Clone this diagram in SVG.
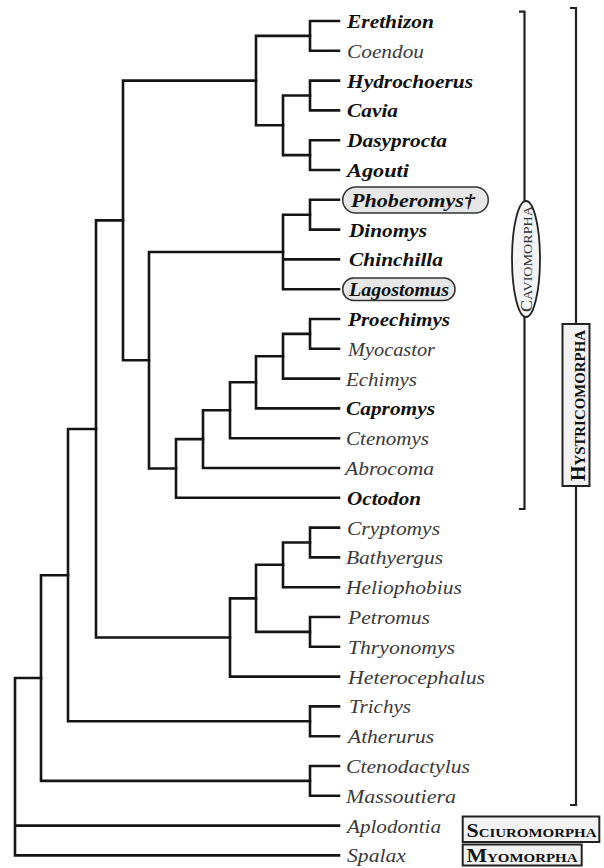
<svg xmlns="http://www.w3.org/2000/svg" width="604" height="868" viewBox="0 0 604 868">
<style>
.e{fill:none;stroke:#151515;stroke-width:2.6;stroke-linecap:square}
.br{fill:none;stroke:#222;stroke-width:2.2}
text{font-family:"Liberation Serif","Times New Roman",serif;font-style:italic;font-size:19px}
.b{font-weight:bold;fill:#111}
.r{fill:#3a3a3a}
.pill{fill:#e6e6e6;stroke:#333;stroke-width:1.5}
.box{fill:#f2f2f2;stroke:#222;stroke-width:2}
.sc{font-style:normal;font-weight:bold;fill:#111}
.cv{font-style:normal;font-weight:normal;fill:#333}
</style>
<rect width="604" height="868" fill="#fff"/>
<g id="connectors">
<path class="e" d="M339 21H310V50.8H339"/>
<path class="e" d="M339 80.6H310V110.4H339"/>
<path class="e" d="M339 140.2H310V170H339"/>
<path class="e" d="M310 95.5H283V155.1H310"/>
<path class="e" d="M310 35.9H256V125.3H283"/>
<path class="e" d="M339 199.8H310V229.6H339"/>
<path class="e" d="M310 214.7H283V289.2H339M283 259.4H339"/>
<path class="e" d="M339 319H310V348.8H339"/>
<path class="e" d="M310 333.9H283V378.6H339"/>
<path class="e" d="M283 356.3H256V408.4H339"/>
<path class="e" d="M256 382.3H230V438.2H339"/>
<path class="e" d="M230 410.3H203V468H339"/>
<path class="e" d="M203 439.1H176V497.8H339"/>
<path class="e" d="M283 252H149V468.5H176"/>
<path class="e" d="M256 80.6H123V360.2H149"/>
<path class="e" d="M339 527.6H310V557.4H339"/>
<path class="e" d="M310 542.5H283V587.2H339"/>
<path class="e" d="M339 617H310V646.8H339"/>
<path class="e" d="M283 564.8H256V631.9H310"/>
<path class="e" d="M256 598.4H230V676.6H339"/>
<path class="e" d="M123 220.4H96V637.5H230"/>
<path class="e" d="M339 706.4H310V736.2H339"/>
<path class="e" d="M96 429H68V721.3H310"/>
<path class="e" d="M339 766H310V795.8H339"/>
<path class="e" d="M68 575.2H41V780.9H310"/>
<path class="e" d="M41 678H15V855.4H339M15 825.6H339"/>
</g>
<g id="taxa">
<g id="n-erethizon"><text class="b" x="347" y="28" textLength="87" lengthAdjust="spacingAndGlyphs">Erethizon</text></g>
<g id="n-coendou"><text class="r" x="347" y="57.8" textLength="77" lengthAdjust="spacingAndGlyphs">Coendou</text></g>
<g id="n-hydrochoerus"><text class="b" x="347" y="87.6" textLength="126" lengthAdjust="spacingAndGlyphs">Hydrochoerus</text></g>
<g id="n-cavia"><text class="b" x="347" y="117.4" textLength="51" lengthAdjust="spacingAndGlyphs">Cavia</text></g>
<g id="n-dasyprocta"><text class="b" x="347" y="147.2" textLength="100" lengthAdjust="spacingAndGlyphs">Dasyprocta</text></g>
<g id="n-agouti"><text class="b" x="347" y="177" textLength="62" lengthAdjust="spacingAndGlyphs">Agouti</text></g>
<g id="n-phoberomys"><rect class="pill" x="342.7" y="187" width="145.6" height="26" rx="13"/><text class="b" x="351" y="206.8" textLength="124" lengthAdjust="spacingAndGlyphs">Phoberomys†</text></g>
<g id="n-dinomys"><text class="b" x="349" y="236.6" textLength="78" lengthAdjust="spacingAndGlyphs">Dinomys</text></g>
<g id="n-chinchilla"><text class="b" x="349" y="266.4" textLength="94" lengthAdjust="spacingAndGlyphs">Chinchilla</text></g>
<g id="n-lagostomus"><rect class="pill" x="342.7" y="278" width="112.3" height="22.4" rx="11"/><text class="b" x="349" y="296.2" textLength="100" lengthAdjust="spacingAndGlyphs">Lagostomus</text></g>
<g id="n-proechimys"><text class="b" x="348" y="326" textLength="102" lengthAdjust="spacingAndGlyphs">Proechimys</text></g>
<g id="n-myocastor"><text class="r" x="348" y="355.8" textLength="87" lengthAdjust="spacingAndGlyphs">Myocastor</text></g>
<g id="n-echimys"><text class="r" x="346" y="385.6" textLength="71" lengthAdjust="spacingAndGlyphs">Echimys</text></g>
<g id="n-capromys"><text class="b" x="346" y="415.4" textLength="89" lengthAdjust="spacingAndGlyphs">Capromys</text></g>
<g id="n-ctenomys"><text class="r" x="346" y="445.2" textLength="83" lengthAdjust="spacingAndGlyphs">Ctenomys</text></g>
<g id="n-abrocoma"><text class="r" x="345" y="475" textLength="89" lengthAdjust="spacingAndGlyphs">Abrocoma</text></g>
<g id="n-octodon"><text class="b" x="347" y="504.8" textLength="74" lengthAdjust="spacingAndGlyphs">Octodon</text></g>
<g id="n-cryptomys"><text class="r" x="347" y="534.6" textLength="93" lengthAdjust="spacingAndGlyphs">Cryptomys</text></g>
<g id="n-bathyergus"><text class="r" x="346" y="564.4" textLength="97" lengthAdjust="spacingAndGlyphs">Bathyergus</text></g>
<g id="n-heliophobius"><text class="r" x="346" y="594.2" textLength="116" lengthAdjust="spacingAndGlyphs">Heliophobius</text></g>
<g id="n-petromus"><text class="r" x="348" y="624" textLength="82" lengthAdjust="spacingAndGlyphs">Petromus</text></g>
<g id="n-thryonomys"><text class="r" x="348" y="653.8" textLength="107" lengthAdjust="spacingAndGlyphs">Thryonomys</text></g>
<g id="n-heterocephalus"><text class="r" x="348" y="683.6" textLength="137" lengthAdjust="spacingAndGlyphs">Heterocephalus</text></g>
<g id="n-trichys"><text class="r" x="349" y="713.4" textLength="62" lengthAdjust="spacingAndGlyphs">Trichys</text></g>
<g id="n-atherurus"><text class="r" x="348" y="743.2" textLength="86" lengthAdjust="spacingAndGlyphs">Atherurus</text></g>
<g id="n-ctenodactylus"><text class="r" x="346" y="773" textLength="124" lengthAdjust="spacingAndGlyphs">Ctenodactylus</text></g>
<g id="n-massoutiera"><text class="r" x="346" y="802.8" textLength="110" lengthAdjust="spacingAndGlyphs">Massoutiera</text></g>
<g id="n-aplodontia"><text class="r" x="347" y="832.6" textLength="94" lengthAdjust="spacingAndGlyphs">Aplodontia</text></g>
<g id="n-spalax"><text class="r" x="347" y="862.4" textLength="59" lengthAdjust="spacingAndGlyphs">Spalax</text></g>
</g>
<g id="caviomorpha">
<path class="br" d="M519 11.7H524.5V509H519"/>
<ellipse cx="526" cy="259" rx="14" ry="58" fill="#f4f4f4" stroke="#222" stroke-width="1.8"/>
<text class="cv" transform="translate(532 312) rotate(-90)" textLength="106" lengthAdjust="spacingAndGlyphs"><tspan font-size="16">C</tspan><tspan font-size="12.5">AVIOMORPHA</tspan></text>
</g>
<g id="hystricomorpha">
<path class="br" d="M570 8H576V805H570"/>
<rect class="box" x="562.5" y="324" width="27" height="162"/>
<text class="sc" transform="translate(584.5 481) rotate(-90)" textLength="151" lengthAdjust="spacingAndGlyphs"><tspan font-size="20">H</tspan><tspan font-size="15">YSTRICOMORPHA</tspan></text>
</g>
<g id="sciuromorpha">
<rect class="box" x="462.7" y="816.5" width="136.6" height="25.5"/>
<text class="sc" x="466.5" y="836.5" textLength="130" lengthAdjust="spacingAndGlyphs"><tspan font-size="19">S</tspan><tspan font-size="13">CIUROMORPHA</tspan></text>
</g>
<g id="myomorpha">
<rect class="box" x="462.7" y="844.5" width="119" height="21"/>
<text class="sc" x="466.5" y="861.5" textLength="111" lengthAdjust="spacingAndGlyphs"><tspan font-size="19">M</tspan><tspan font-size="13">YOMORPHA</tspan></text>
</g>
</svg>
